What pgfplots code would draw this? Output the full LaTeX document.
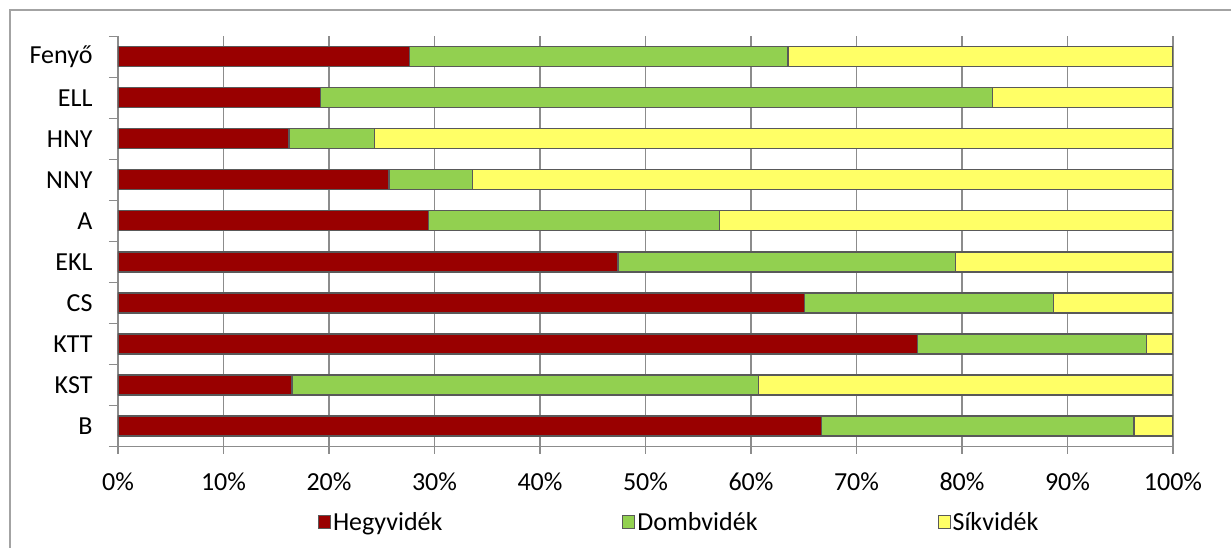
\documentclass[border=0pt]{standalone}
\usepackage{fontspec}
\setmainfont{Carlito}
\usepackage{pgfplots}
\pgfplotsset{compat=1.18}
\definecolor{cred}{HTML}{990000}
\definecolor{cgreen}{HTML}{92D050}
\definecolor{cyellow}{HTML}{FFFF66}
\definecolor{cedge}{HTML}{595959}
\definecolor{cgrid}{HTML}{8C8C8C}
\begin{document}
\begin{tikzpicture}
\clip (-118pt,-100.5pt) rectangle ++(1231pt,547pt);
\useasboundingbox (-118pt,-100.5pt) rectangle ++(1231pt,547pt);
\draw[color=cgrid!80, line width=1.3pt] (-108pt,-200pt) -- (-108pt,436.5pt) -- (1300pt,436.5pt);
\begin{axis}[
  at={(0,0)}, anchor=south west,
  scale only axis,
  width=1055pt, height=410.3pt,
  xbar stacked,
  bar width=20pt,
  xmin=0, xmax=100,
  ymin=-0.5, ymax=9.5,
  xtick={0,10,...,100},
  xticklabels={0\%,10\%,20\%,30\%,40\%,50\%,60\%,70\%,80\%,90\%,100\%},
  ytick={0,...,9},
  yticklabels={B,KST,KTT,CS,EKL,A,NNY,HNY,ELL,Fenyő},
  minor ytick={-0.5,0.5,...,9.5},
  axis x line*=bottom,
  axis y line*=left,
  axis line style={color=cgrid, line width=1.2pt},
  xmajorgrids,
  major grid style={color=cgrid, line width=1.2pt},
  tick align=outside,
  major tick length=7pt,
  minor tick length=9pt,
  every major y tick/.append style={draw=none},
  every tick/.append style={color=cgrid, line width=1.2pt},
  tick label style={font=\fontsize{26}{31}\selectfont, color=black},
  xticklabel style={yshift=-16pt},
  yticklabel style={xshift=-15pt},
  legend columns=3,
  legend style={at={(0.532,-0.184)}, anchor=center, draw=none, fill=none,
    font=\fontsize{26}{31}\selectfont,
    /tikz/every even column/.append style={column sep=178pt},
    /tikz/every odd column/.append style={column sep=0pt}},
  legend image code/.code={\draw[#1, line width=1pt] (0pt,-6.5pt) rectangle (12pt,6.5pt);},
  every axis plot/.append style={draw=cedge, line width=1.3pt},
]
\addplot[fill=cred] coordinates {(66.7,0) (16.5,1) (75.8,2) (65.1,3) (47.4,4) (29.4,5) (25.7,6) (16.2,7) (19.2,8) (27.6,9)};
\addplot[fill=cgreen] coordinates {(29.6,0) (44.2,1) (21.7,2) (23.6,3) (32.0,4) (27.6,5) (7.9,6) (8.1,7) (63.7,8) (35.9,9)};
\addplot[fill=cyellow] coordinates {(3.7,0) (39.3,1) (2.5,2) (11.3,3) (20.6,4) (43.0,5) (66.4,6) (75.7,7) (17.1,8) (36.5,9)};
\legend{Hegyvidék,Dombvidék,Síkvidék}
\end{axis}
\end{tikzpicture}
\end{document}
